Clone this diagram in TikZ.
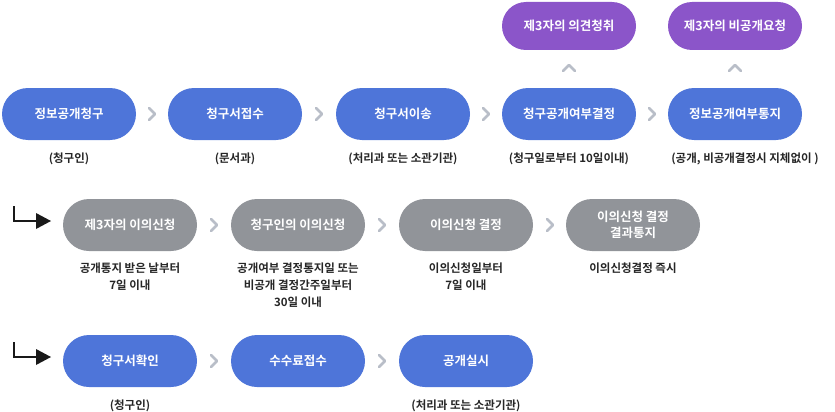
\documentclass[tikz,border=0pt]{standalone}
\usepackage{fontspec}
\setmainfont{Noto Sans CJK KR}[BoldFont={* Bold}]
\begin{document}
\begin{tikzpicture}[x=1pt,y=-1pt,
 pill/.style={rounded corners=26pt,minimum width=134pt,minimum height=52pt,text=white,font=\bfseries\fontsize{12.5}{14}\selectfont,align=center,inner sep=0pt},
 blue/.style={pill,fill=blue1},
 purp/.style={pill,fill=purp1,minimum height=48pt,rounded corners=24pt},
 gray/.style={pill,fill=gray1},
 lab/.style={font=\bfseries\fontsize{11.5}{17}\selectfont,text=black!85,align=center,anchor=north},
 chev/.style={draw=chevc,line width=2.6pt,line cap=round,line join=round}]
\definecolor{blue1}{HTML}{4E75D9}
\definecolor{purp1}{HTML}{8B55C9}
\definecolor{gray1}{HTML}{919499}
\definecolor{chevc}{HTML}{B9BEC8}
\useasboundingbox (0,0) rectangle (835,412);
% row 1
\node[blue] (a1) at (69,114) {정보공개청구};
\node[blue] (a2) at (235,114) {청구서접수};
\node[blue] (a3) at (403,114) {청구서이송};
\node[blue] (a4) at (569,114) {청구공개여부결정};
\node[blue] (a5) at (735,114) {정보공개여부통지};
\node[purp] (p1) at (569,26) {제3자의 의견청취};
\node[purp] (p2) at (735,26) {제3자의 비공개요청};
\node[lab] (l1) at (69,149) {(청구인)};
\node[lab] (l2) at (235,149) {(문서과)};
\node[lab] (l3) at (403,149) {(처리과 또는 소관기관)};
\node[lab] (l4) at (569,149) {(청구일로부터 10일이내)};
\node[lab] (l5) at (745,149) {(공개, 비공개결정시 지체없이 )};
% row 2
\node[gray] (b1) at (130,225) {제3자의 이의신청};
\node[gray] (b2) at (298,225) {청구인의 이의신청};
\node[gray] (b3) at (466,225) {이의신청 결정};
\node[gray] (b4) at (633,225) {이의신청 결정\\[2pt]결과통지};
\node[lab] (m1) at (130,259) {공개통지 받은 날부터\\7일 이내};
\node[lab] (m2) at (298,259) {공개여부 결정통지일 또는\\비공개 결정간주일부터\\30일 이내};
\node[lab] (m3) at (466,259) {이의신청일부터\\7일 이내};
\node[lab] (m4) at (633,259) {이의신청결정 즉시};
% row 3
\node[blue] (c1) at (130,361) {청구서확인};
\node[blue] (c2) at (298,361) {수수료접수};
\node[blue] (c3) at (466,361) {공개실시};
\node[lab] (n1) at (130,396) {(청구인)};
\node[lab] (n3) at (466,396) {(처리과 또는 소관기관)};
% chevrons right
\foreach \x/\y in {152/114,319/114,486/114,652/114,214/225,382/225,550/225,214/361,382/361}
  \draw[chev] (\x-3,\y-6) -- (\x+3,\y) -- (\x-3,\y+6);
% chevrons up
\foreach \x in {569,735}
  \draw[chev] (\x-6,71) -- (\x,65) -- (\x+6,71);
% L arrows
\foreach \y/\n in {225/b1,361/c1}{
  \coordinate (s\n) at (14,\y-19);
  \coordinate (e\n) at (37,\y-4);
  \draw[line width=2pt,black!90] (s\n) -- (14,\y-4) -- (e\n);
  \fill[black!90] (36,\y-12) -- (51,\y-4) -- (36,\y+4) -- cycle;
}
\end{tikzpicture}
\end{document}
